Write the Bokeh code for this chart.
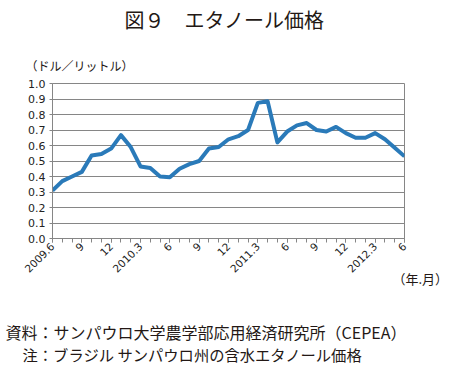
from bokeh.plotting import figure
from bokeh.models import Range1d, FixedTicker, Title
from bokeh.embed import file_html
from bokeh.resources import INLINE

# month index 0 = 2009.6 ... 36 = 2012.6
tick_positions = [0, 3, 6, 9, 12, 15, 18, 21, 24, 27, 30, 33, 36]
tick_labels = ["2009.6", "9", "12", "2010.3", "6", "9", "12", "2011.3", "6", "9", "12", "2012.3", "6"]
prices = [0.31, 0.37, 0.40, 0.43, 0.535, 0.545, 0.58, 0.667, 0.59, 0.465, 0.455, 0.40, 0.395,
          0.45, 0.48, 0.50, 0.58, 0.59, 0.64, 0.66, 0.70, 0.875, 0.885, 0.62, 0.69, 0.73,
          0.745, 0.70, 0.69, 0.72, 0.68, 0.65, 0.65, 0.68, 0.64, 0.585, 0.53]
months = list(range(len(prices)))

W, H = 449, 366
FL, FR, FT, FB = 52, 404, 83, 238   # frame edges in page pixels
p = figure(width=W, height=H, output_backend="svg", toolbar_location=None,
           x_range=Range1d(0, 36), y_range=Range1d(0, 1),
           min_border_left=FL, min_border_right=W - FR, min_border_top=FT,
           min_border_bottom=H - FB)
p.background_fill_color = "white"
p.border_fill_color = "white"
p.outline_line_color = "#868686"
p.outline_line_width = 1

grid_col = "#868686"
p.xgrid.grid_line_color = None
p.ygrid.grid_line_color = grid_col
p.ygrid.ticker = FixedTicker(ticks=[i / 10 for i in range(11)])

p.line(months, prices, line_color="#2a7ab9", line_width=4, line_join="round")

# y axis
p.yaxis.ticker = FixedTicker(ticks=[i / 10 for i in range(11)])
p.yaxis.major_label_overrides = {i / 10: f"{i / 10:.1f}" for i in range(11)}
p.yaxis.axis_line_color = grid_col
p.yaxis.major_tick_line_color = grid_col
p.yaxis.major_tick_out = 3
p.yaxis.major_tick_in = 0
p.yaxis.minor_tick_line_color = None
p.yaxis.major_label_text_font = "DejaVu Sans"
p.yaxis.major_label_text_font_size = "11px"
p.yaxis.major_label_text_color = "#222222"
p.yaxis.major_label_standoff = 4

# x axis
p.xaxis.ticker = FixedTicker(ticks=tick_positions, minor_ticks=months)
p.xaxis.major_label_overrides = {t: l for t, l in zip(tick_positions, tick_labels)}
p.xaxis.major_label_orientation = 0.785398
p.xaxis.axis_line_color = grid_col
p.xaxis.major_tick_line_color = grid_col
p.xaxis.minor_tick_line_color = grid_col
p.xaxis.major_tick_out = 4
p.xaxis.major_tick_in = 0
p.xaxis.minor_tick_out = 4
p.xaxis.minor_tick_in = 0
p.xaxis.major_label_text_font = "DejaVu Sans"
p.xaxis.major_label_text_font_size = "10.5px"
p.xaxis.major_label_text_color = "#222222"
p.xaxis.major_label_standoff = 2

jp = "Noto Sans CJK JP"
def mk_title(text, size, align, offset, standoff, valign="bottom"):
    return Title(text=text, text_font=jp, text_font_size=size, text_font_style="normal",
                 text_color="#231815", align=align, offset=offset, standoff=standoff,
                 vertical_align=valign)

# above panel (stacked from the top): title, spacer, unit label
p.title = mk_title("図９　エタノール価格", "20px", "left", 72, 4.8, "bottom")
p.add_layout(mk_title("（ドル／リットル）", "12px", "left", -27, 16, "top"), "above")
p.add_layout(mk_title(" ", "4px", "left", 0, 3.9), "above")

# below panel (after the axis): unit, spacer, notes
p.add_layout(mk_title("（年.月）", "13px", "left", 340, -20.3, "top"), "below")
p.add_layout(mk_title(" ", "10px", "left", 0, 19.5), "below")
p.add_layout(mk_title("資料：サンパウロ大学農学部応用経済研究所（CEPEA）", "16px", "left", -47, 0), "below")
p.add_layout(mk_title("注：ブラジル サンパウロ州の含水エタノール価格", "15.3px", "left", -30, -6), "below")

open("out.html", "w").write(file_html(p, INLINE))
